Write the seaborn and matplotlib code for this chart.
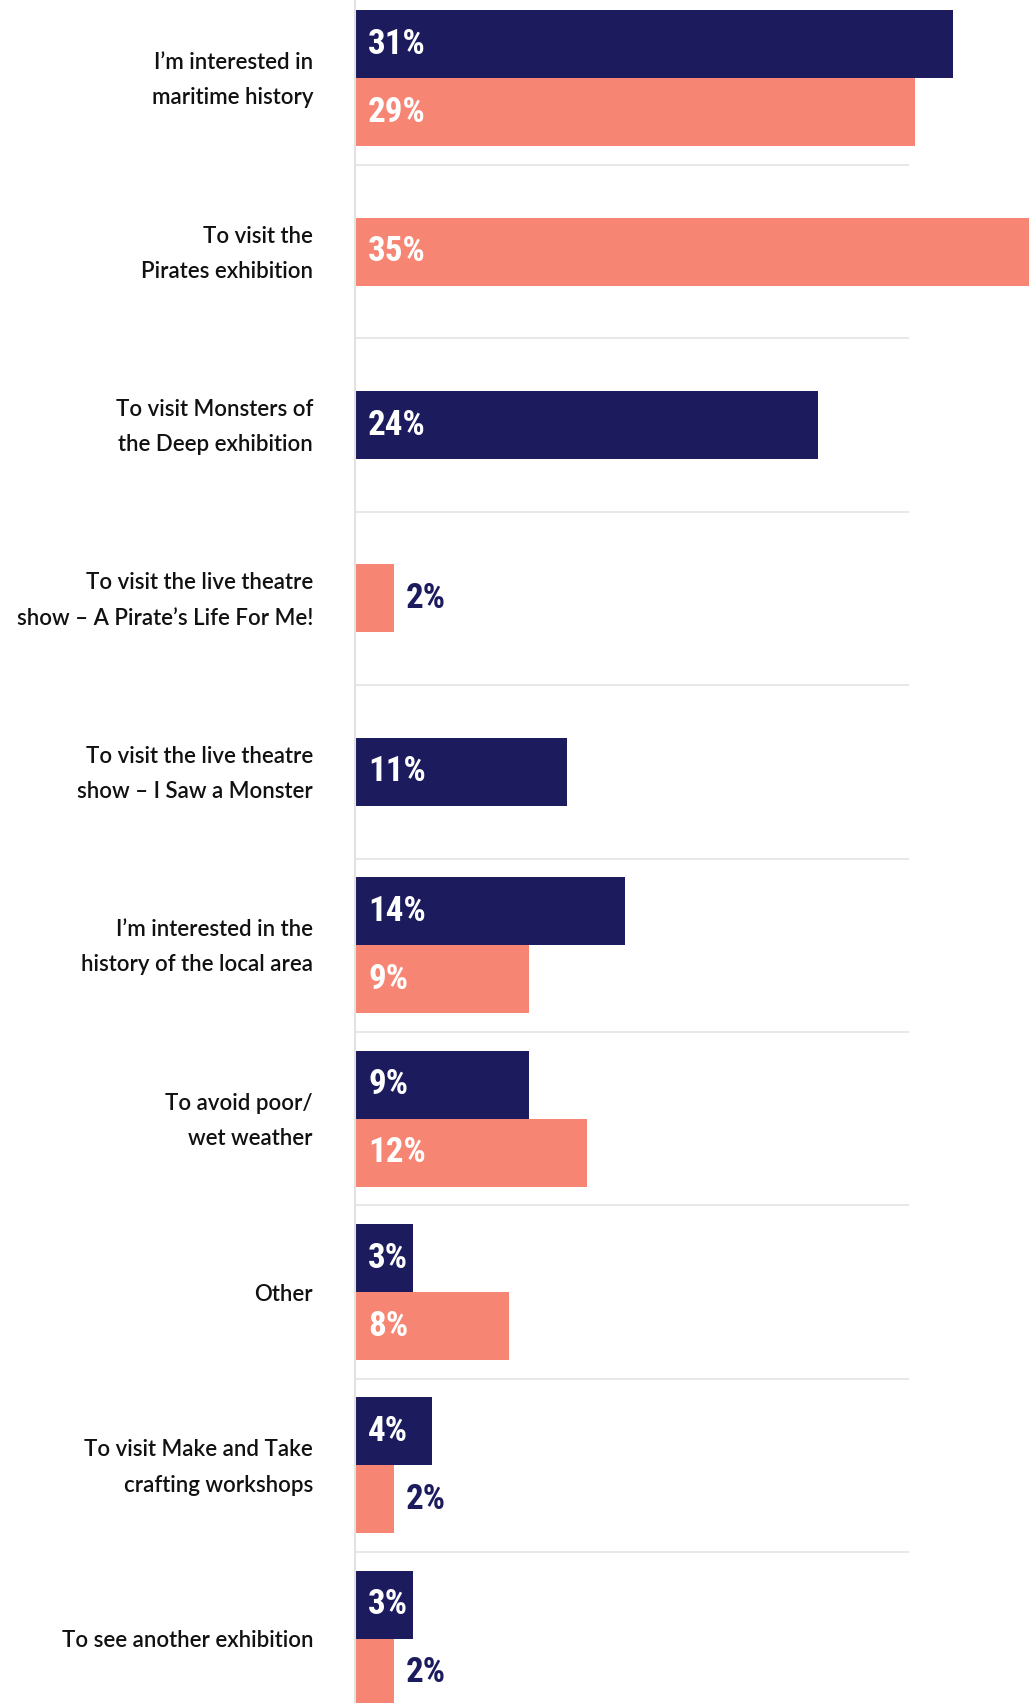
import matplotlib
matplotlib.use("Agg")
import matplotlib.pyplot as plt
import matplotlib.transforms as mtransforms
from matplotlib import font_manager as fm
import seaborn as sns
import pandas as pd
import numpy as np

# ---------------- data ----------------
categories = [
    "I\u2019m interested in\nmaritime history",
    "To visit the\nPirates exhibition",
    "To visit Monsters of\nthe Deep exhibition",
    "To visit the live theatre\nshow \u2013 A Pirate\u2019s Life For Me!",
    "To visit the live theatre\nshow \u2013 I Saw a Monster",
    "I\u2019m interested in the\nhistory of the local area",
    "To avoid poor/\nwet weather",
    "Other",
    "To visit Make and Take\ncrafting workshops",
    "To see another exhibition",
]
series_navy = [31, None, 24, None, 11, 14, 9, 3, 4, 3]
series_coral = [29, 35, None, 2, None, 9, 12, 8, 2, 2]
series_names = ["Navy", "Coral"]

NAVY = "#1b1b5e"
CORAL = "#f68673"

# ---------------- build long table ----------------
BAR_H = 0.392
rows = []
for i, (a, b) in enumerate(zip(series_navy, series_coral)):
    present = [(series_names[0], a), (series_names[1], b)]
    present = [(s, v) for s, v in present if v is not None]
    n = len(present)
    for j, (s, v) in enumerate(present):
        off = (j - (n - 1) / 2) * BAR_H
        rows.append({"cat": i, "series": s, "value": v, "pos": round(i + off, 4)})
df = pd.DataFrame(rows)

# ---------------- pick a narrow bold font for the value labels ----------------
def find_bold(family, stretch="normal"):
    try:
        p = fm.findfont(fm.FontProperties(family=family, weight="bold", stretch=stretch),
                        fallback_to_default=False)
    except Exception:
        return None
    return p if "bold" in p.lower() else None

candidates = [("Roboto Condensed", "normal"), ("Liberation Sans Narrow", "normal"),
              ("Roboto", "normal"), ("DejaVu Sans", "condensed"), ("DejaVu Sans", "normal")]
VAL_FAMILY, VAL_STRETCH = "DejaVu Sans", "condensed"
for fam, st in candidates:
    if find_bold(fam, st):
        VAL_FAMILY, VAL_STRETCH = fam, st
        break

# ---------------- figure ----------------
sns.set_theme(style="white")
W, H = 1029, 1703
fig = plt.figure(figsize=(W / 100, H / 100), dpi=100)
fig.patch.set_facecolor("white")
ax_left = 355 / W
ax = fig.add_axes([ax_left, 0, 1 - ax_left, 1])

sns.barplot(data=df, x="value", y="pos", hue="series", orient="y",
            native_scale=True, dodge=False, width=1.0, errorbar=None,
            palette={series_names[0]: NAVY, series_names[1]: CORAL},
            saturation=1, linewidth=0, legend=False, ax=ax)

px_per_unit = 19.3
xmax = (W - 355) / px_per_unit
ax.set_xlim(0, xmax)
ax.set_ylim(9.37, -0.451)

# separators
sep_end = (909 - 355) / px_per_unit
for k in range(len(categories) - 1):
    ax.plot([0, sep_end], [k + 0.5, k + 0.5], color="#e6e6e6", lw=1.3,
            zorder=0, solid_capstyle="butt")

for sp in ["top", "right", "bottom"]:
    ax.spines[sp].set_visible(False)
ax.spines["left"].set_color("#e2e2e2")
ax.spines["left"].set_linewidth(1.5)
ax.set_xticks([])
ax.set_yticks([])
ax.set_xlabel("")
ax.set_ylabel("")

# size the value font so that "3%" fits inside the 3% bar (~40 px wide text)
renderer = fig.canvas.get_renderer()
probe = fig.text(0, 0, "3%", fontsize=20, fontweight="bold",
                 family=[VAL_FAMILY, "DejaVu Sans"], fontstretch=VAL_STRETCH)
wpx = probe.get_window_extent(renderer).width
probe.remove()
val_size = min(28, 20 * 40.0 / wpx)

for _, r in df.iterrows():
    v = r["value"]
    kw = dict(ha="left", va="center", fontsize=val_size, fontweight="bold",
              family=[VAL_FAMILY, "DejaVu Sans"], fontstretch=VAL_STRETCH)
    if v <= 2:
        ax.text(v + 12 / px_per_unit, r["pos"], f"{int(v)}%", color=NAVY, **kw)
    else:
        ax.text(13 / px_per_unit, r["pos"], f"{int(v)}%", color="white", **kw)

# category labels
trans = mtransforms.blended_transform_factory(fig.transFigure, ax.transData)
for i, c in enumerate(categories):
    ax.text(313 / W, i + 0.012, c, transform=trans, ha="right", va="center",
            fontsize=16, color="#111111", family=["Lato", "DejaVu Sans"],
            fontweight="semibold", linespacing=1.83, clip_on=False)

fig.savefig("out.png", dpi=100, facecolor="white")
